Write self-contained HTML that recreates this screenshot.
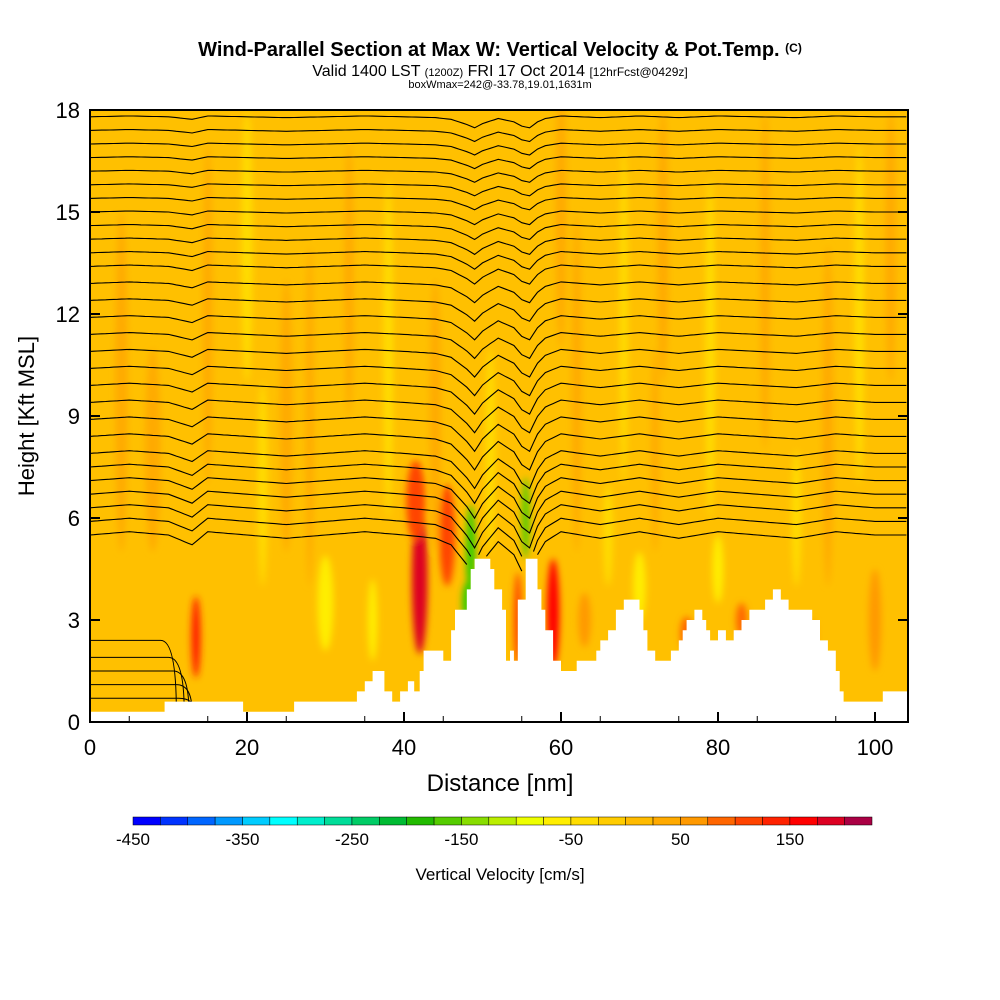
<!DOCTYPE html>
<html><head><meta charset="utf-8"><style>
body{margin:0;background:#fff;width:1000px;height:1000px;overflow:hidden;font-family:"Liberation Sans",sans-serif}
svg{position:absolute;left:0;top:0}
</style></head><body>
<svg id="chart" width="1000" height="1000" xmlns="http://www.w3.org/2000/svg">
<defs>
<clipPath id="plotclip"><rect x="90" y="110" width="818" height="612"/></clipPath>
<filter id="blur" x="-50%" y="-50%" width="200%" height="200%"><feGaussianBlur stdDeviation="3.5"/></filter>
</defs>
<text x="500" y="56" text-anchor="middle" font-size="20" font-weight="bold">Wind-Parallel Section at Max W: Vertical Velocity &amp; Pot.Temp. <tspan font-size="12" dy="-4">(C)</tspan></text>
<text x="500" y="76" text-anchor="middle" font-size="16">Valid 1400 LST <tspan font-size="11">(1200Z)</tspan> FRI 17 Oct 2014 <tspan font-size="12">[12hrFcst@0429z]</tspan></text>
<text x="500" y="88" text-anchor="middle" font-size="11">boxWmax=242@-33.78,19.01,1631m</text>
<g id="plot" clip-path="url(#plotclip)">
<rect x="90" y="110" width="818" height="612" fill="#ffc000"/>
<g id="blobs" filter="url(#blur)"></g>
<g id="contours"></g>
<path id="terrain" fill="#fff" stroke="none"/>
</g>
<rect x="90" y="110" width="818" height="612" fill="none" stroke="#000" stroke-width="2"/>
<g id="axes"></g>
<text x="500" y="791" text-anchor="middle" font-size="24">Distance [nm]</text>
<text transform="translate(34,416) rotate(-90)" text-anchor="middle" font-size="22">Height [Kft MSL]</text>
<g id="colorbar"></g>
<text x="500" y="880" text-anchor="middle" font-size="17">Vertical Velocity [cm/s]</text>
</svg>
<script>
const xTicks=[0,20,40,60,80,100];
const yTicks=[0,3,6,9,12,15,18];
const terrainX=[0,9.5,19.5,26,34,35,36,37.5,38.5,39.5,40.5,41.3,42,42.5,44.5,45,46,46.5,48,48.5,49,51,51.5,52.5,53,53.5,54,54.5,55.5,57,57.5,58,59,60,61,62,64.5,65,66,67,68,70,70.5,71,72,73,74,75,75.5,76,77,78,78.5,79,80,81,82,83,84,86,87,88,89,92,93,94,95,95.5,96,100,101,104.2];
const terrainH=[0.3,0.6,0.3,0.6,0.9,1.2,1.5,0.9,0.6,0.9,1.2,0.9,1.5,2.1,2.1,1.8,2.7,3.3,3.9,4.5,4.8,4.5,3.9,3.3,1.8,2.1,1.8,3.6,4.8,3.9,3.3,2.7,1.8,1.5,1.5,1.8,2.1,2.4,2.7,3.3,3.6,3.3,2.7,2.1,1.8,1.8,2.1,2.4,2.7,3.0,3.3,3.0,2.7,2.4,2.7,2.4,2.7,3.0,3.3,3.6,3.9,3.6,3.3,3.0,2.4,2.1,1.5,0.9,0.6,0.6,0.9,0.9];
const contourLevels=[5.5,5.9,6.3,6.7,7.1,7.5,7.9,8.4,8.9,9.4,9.9,10.4,10.9,11.4,11.9,12.4,12.9,13.4,13.8,14.2,14.6,15.0,15.4,15.8,16.2,16.6,17.0,17.4,17.8];
const wiggleX=[0,5,10,13,15,20,25,30,35,40,44,46,48,49,50,52,54,55,56,57,58,60,65,70,75,80,85,90,95,100,104.2];
const wiggleD=[0,0.1,0,-0.3,0.1,0,-0.1,0,0.1,0,-0.1,-0.3,-0.9,-1.3,-0.8,-0.2,-0.6,-1.1,-1.3,-0.6,-0.2,0.1,-0.1,0.1,-0.1,0.1,0,-0.1,0.1,0,0];
const lowLevels=[0.7,1.1,1.5,1.9,2.4];
const lowEndX=[13.3,13.0,12.6,12.0,11.0];
const blobX=[42,41.5,45.5,13.5,59,48.5,48,55.5,54.5,30,70,63,76,83,88,92,25,8,36,66,80,51,4,15,20,28,33,38,44,62,68,73,79,86,94,98,102,22,60,72,90,100];
const blobY=[4.2,6.5,5.5,2.5,3.2,5.0,3.5,6.0,3.0,3.5,4.0,3.0,2.6,3.0,2.8,2.5,9,8,3,5.5,4.5,8,10,12,14,9,13,11,9,10,12,14,11,13,9,12,14,7,15,8,6,3];
const blobRX=[1.0,1.2,1.0,0.6,0.8,0.6,0.6,0.5,0.5,1.0,0.8,0.8,0.8,0.7,0.8,0.6,0.8,1.0,0.6,0.6,0.7,0.6,0.8,0.6,0.7,0.5,0.6,0.6,0.7,0.6,0.5,0.7,0.6,0.6,0.7,0.6,0.7,0.6,0.7,0.5,0.6,0.8];
const blobRY=[2.2,1.2,1.5,1.2,1.6,1.4,0.6,1.2,1.4,1.4,1.0,0.8,0.5,0.5,0.4,0.5,4,3,1.2,1.5,1.0,3,5,5,4,5,4,5,4,5,5,4,5,5,5,5,4,3,4,3,2,1.5];
const blobC=["#dd0022","#ff4400","#ff4400","#ff2200","#ff0000","#33cc00","#33cc00","#55cc00","#ff4400","#ffee00","#ffee00","#ff9900","#ff6600","#ff6600","#ff6600","#ff9900","#ffaa00","#ffaa00","#ffee00","#ffdd00","#ffee00","#ffdd00","#ffaa00","#ffaa00","#ffdd00","#ffaa00","#ffaa00","#ffdd00","#ffaa00","#ffaa00","#ffdd00","#ffaa00","#ffdd00","#ffaa00","#ffaa00","#ffdd00","#ffaa00","#ffdd00","#ffaa00","#ffaa00","#ffdd00","#ff9900"];
const cbColors=["#0000ff","#0033ff","#0066ff","#0099ff","#00ccff","#00ffff","#00eecc","#00dd99","#00cc66","#00bb33","#22bb00","#55cc00","#88dd00","#bbee00","#eeff00","#ffee00","#ffdd00","#ffcc00","#ffbb00","#ffaa00","#ff9900","#ff6600","#ff4400","#ff2200","#ff0000","#dd0022","#aa0044"];
const cbLabels=["-450","-350","-250","-150","-50","50","150"];

const NS="http://www.w3.org/2000/svg";
const X=v=>90+v*7.85, Y=v=>722-v*34;
function mk(t,a,p){const e=document.createElementNS(NS,t);for(const k in a)e.setAttribute(k,a[k]);p.appendChild(e);return e;}
function interp(xs,ys,x){for(let i=0;i<xs.length-1;i++){if(x>=xs[i]&&x<=xs[i+1]){const t=(x-xs[i])/(xs[i+1]-xs[i]);return ys[i]+t*(ys[i+1]-ys[i]);}}return ys[ys.length-1];}
function ground(x){let h=terrainH[0];for(let i=0;i<terrainX.length;i++){if(x>=terrainX[i])h=terrainH[i];}return h;}

const bg=document.getElementById('blobs');
blobX.forEach((bx,i)=>{const e=mk('ellipse',{cx:X(bx),cy:Y(blobY[i]),rx:blobRX[i]*7.85,ry:blobRY[i]*34,fill:blobC[i]},bg);

});

const cg=document.getElementById('contours');
contourLevels.forEach(lv=>{const f=Math.max(0.25,1-(lv-5)/14);let d='';let pen=false;
for(let x=0;x<=104.2;x+=0.5){const y=lv+f*interp(wiggleX,wiggleD,x);if(y<ground(x)){pen=false;continue;}d+=(pen?'L':'M')+X(x).toFixed(1)+','+Y(y).toFixed(1);pen=true;}
const e=mk('path',{d:d,fill:'none',stroke:'#000','stroke-width':1.1},cg);

});
lowLevels.forEach((lv,i)=>{const ex=lowEndX[i];
const d='M'+X(0)+','+Y(lv)+'L'+X(ex-2)+','+Y(lv)+'Q'+X(ex)+','+Y(lv)+' '+X(ex)+','+Y(0.3);
const e=mk('path',{d:d,fill:'none',stroke:'#000','stroke-width':1},cg);

});

let td='M'+X(0)+','+Y(0);
terrainX.forEach((tx,i)=>{const nx=i+1<terrainX.length?terrainX[i+1]:104.2;td+='L'+X(tx).toFixed(1)+','+Y(terrainH[i]).toFixed(1)+'L'+X(nx).toFixed(1)+','+Y(terrainH[i]).toFixed(1);});
td+='L'+X(104.2)+','+Y(0)+'Z';
const ter=document.getElementById('terrain');ter.setAttribute('d',td);



const ag=document.getElementById('axes');
xTicks.forEach(v=>{mk('line',{x1:X(v),x2:X(v),y1:722,y2:712,stroke:'#000','stroke-width':2},ag);
const t=mk('text',{x:X(v),y:755,'text-anchor':'middle','font-size':22},ag);t.textContent=v;

});
for(let v=5;v<=100;v+=10){mk('line',{x1:X(v),x2:X(v),y1:722,y2:716,stroke:'#000','stroke-width':1},ag);}
yTicks.forEach(v=>{mk('line',{x1:90,x2:100,y1:Y(v),y2:Y(v),stroke:'#000','stroke-width':2},ag);
mk('line',{x1:898,x2:908,y1:Y(v),y2:Y(v),stroke:'#000','stroke-width':2},ag);
const t=mk('text',{x:80,y:Y(v)+8,'text-anchor':'end','font-size':22},ag);t.textContent=v;

});

const cb=document.getElementById('colorbar');const w=(872-133)/cbColors.length;
cbColors.forEach((c,i)=>{const r=mk('rect',{x:133+i*w,y:817,width:w,height:8,fill:c,stroke:'#000','stroke-width':0.5},cb);

});
cbLabels.forEach((l,i)=>{const t=mk('text',{x:133+i*4*w,y:845,'text-anchor':'middle','font-size':17},cb);t.textContent=l;

});
</script>
</body></html>
